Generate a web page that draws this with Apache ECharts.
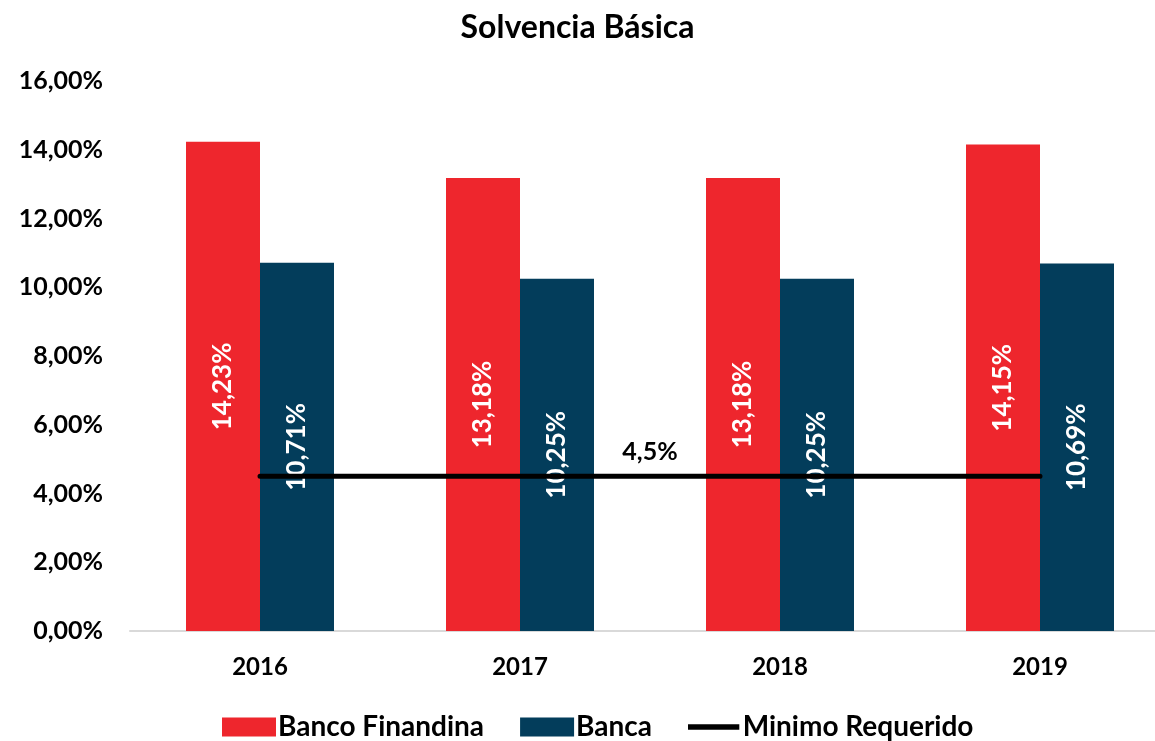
<!DOCTYPE html>
<html lang="es">
<head>
    <meta charset="UTF-8">
    <script src="https://cdn.jsdelivr.net/npm/echarts@6/dist/echarts.min.js"></script>
    <title>Solvencia Básica</title>
    <style type="text/css">
        html, body { margin: 0; padding: 0; background: #fff; }
        #chart { width: 1155px; height: 741px; }
    </style>
</head>
<body>
<div id="chart"></div>
<script type="text/javascript">
    // datos
    const years = ['2016', '2017', '2018', '2019'];
    const finandina = [14.23, 13.18, 13.18, 14.15];
    const banca = [10.71, 10.25, 10.25, 10.69];
    const minimo = [4.5, 4.5, 4.5, 4.5];
    const minimoLabel = '4,5%';

    const font = 'Lato, "Open Sans", sans-serif';

    function pct(v) {
        return v.toFixed(2).replace('.', ',') + '%';
    }

    const myChart = echarts.init(document.getElementById('chart'));

    const option = {
        title: {
            text: 'Solvencia Básica',
            left: 'center',
            top: 7,
            textStyle: { fontFamily: font, fontWeight: 'bold', fontSize: 32, color: '#000' }
        },
        legend: {
            left: 217,
            top: 708,
            itemWidth: 54,
            itemHeight: 19,
            itemGap: 36,
            textStyle: { fontFamily: font, fontWeight: 'bold', fontSize: 28, color: '#000', padding: [0, 0, 0, -3] },
            data: [
                { name: 'Banco Finandina', icon: 'rect' },
                { name: 'Banca', icon: 'rect' },
                // linea gruesa centrada en la caja del icono
                { name: 'Minimo Requerido', icon: 'path://M0,0 M0,7 L54,7 L54,13 L0,13 Z M54,20' }
            ]
        },
        // el eje sigue mas alla del borde derecho
        grid: { left: 130, width: 1040, top: 81, bottom: 110, outerBoundsMode: 'none' },
        xAxis: [{
            type: 'category',
            data: years,
            axisLine: { lineStyle: { color: '#d9d9d9', width: 2 } },
            axisTick: { length: 9, lineStyle: { color: '#d9d9d9', width: 2 } },
            axisLabel: { fontFamily: font, fontWeight: 'bold', fontSize: 24, color: '#000', margin: 24 }
        }, {
            type: 'value',
            min: -0.5,
            max: 3.5,
            show: false
        }],
        yAxis: {
            type: 'value',
            min: 0,
            max: 16,
            interval: 2,
            axisLine: { show: false },
            axisTick: { show: false },
            splitLine: { show: false },
            axisLabel: {
                fontFamily: font, fontWeight: 'bold', fontSize: 25, color: '#000', margin: 27,
                formatter: function (v) { return pct(v); }
            }
        },
        series: [{
            name: 'Banco Finandina',
            type: 'bar',
            data: finandina,
            barWidth: 74,
            barGap: '0%',
            itemStyle: { color: '#EE262D' },
            label: {
                show: true, position: 'inside', rotate: 90,
                fontFamily: font, fontWeight: 'bold', fontSize: 26, color: '#fff',
                formatter: function (p) { return pct(p.value); }
            }
        }, {
            name: 'Banca',
            type: 'bar',
            data: banca,
            barWidth: 74,
            barGap: '0%',
            itemStyle: { color: '#033D5B' },
            label: {
                show: true, position: 'inside', rotate: 90,
                fontFamily: font, fontWeight: 'bold', fontSize: 26, color: '#fff',
                formatter: function (p) { return pct(p.value); }
            }
        }, {
            name: 'Minimo Requerido',
            type: 'line',
            xAxisIndex: 1,
            data: minimo.map(function (v, i) { return [i, v]; }),
            symbol: 'none',
            itemStyle: { color: '#000' },
            lineStyle: { color: '#000', width: 5, cap: 'round' },
            z: 3,
            markPoint: {
                symbolSize: 0,
                data: [{ coord: [(minimo.length - 1) / 2, minimo[1]], value: minimoLabel }],
                label: {
                    show: true, position: 'top', distance: 12,
                    fontFamily: font, fontWeight: 'bold', fontSize: 25, color: '#000',
                    formatter: minimoLabel
                }
            }
        }]
    };

    myChart.setOption(option);
</script>
</body>
</html>
